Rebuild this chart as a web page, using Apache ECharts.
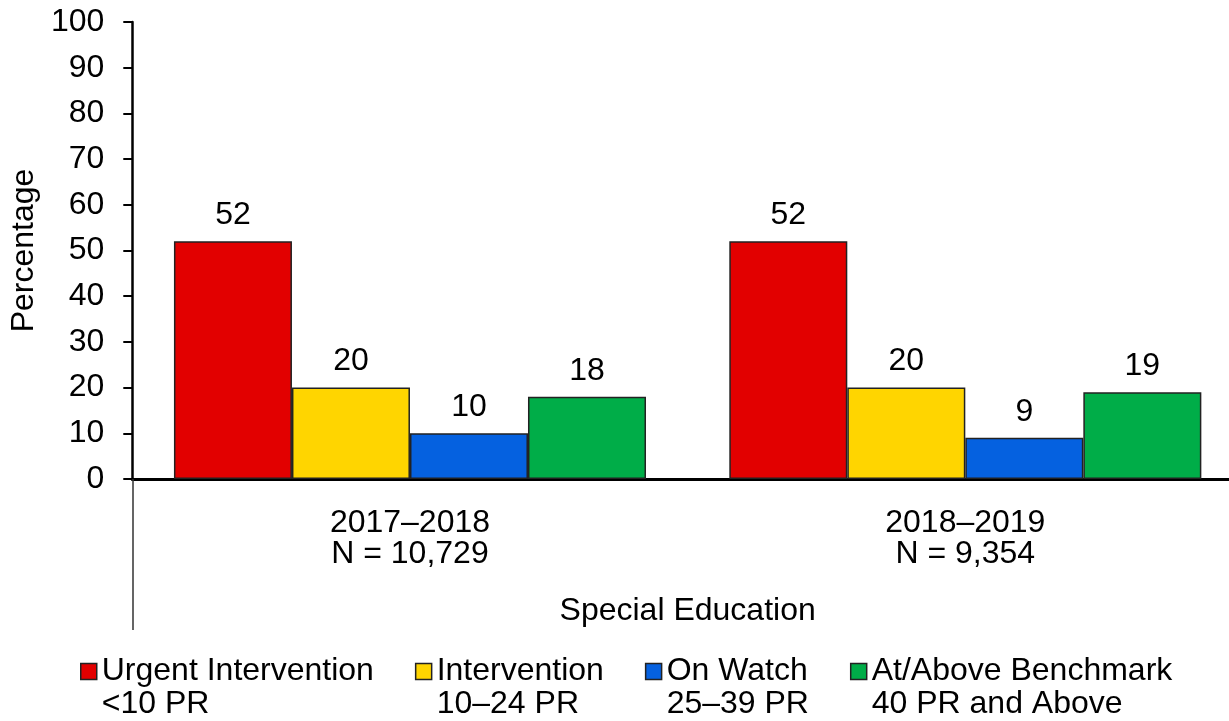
<!DOCTYPE html>
<html>
<head>
<meta charset="utf-8">
<style>
  html, body { margin: 0; padding: 0; background: #ffffff; overflow: hidden; }
  /* the plot runs a little past the right edge of the window */
  #chart { width: 1243px; height: 721px; }
</style>
<script src="https://cdn.jsdelivr.net/npm/echarts@6/dist/echarts.min.js"></script>
</head>
<body>
<div id="chart"></div>
<script>
// School years, each with its group size
const categories = ['2017–2018\nN = 10,729', '2018–2019\nN = 9,354'];

// Percentage of students in each screening band
const urgentIntervention = [52, 52];
const intervention = [20, 20];
const onWatch = [10, 9];
const atAboveBenchmark = [18, 19];

const seriesNames = [
  'Urgent Intervention\n<10 PR',
  'Intervention\n10–24 PR',
  'On Watch\n25–39 PR',
  'At/Above Benchmark\n40 PR and Above'
];
const seriesValues = [urgentIntervention, intervention, onWatch, atAboveBenchmark];
const seriesColors = ['#E20000', '#FFD500', '#0561E0', '#00AD48'];

const yTicks = { min: 0, max: 100, interval: 10 };

const FONT = "'Liberation Sans', Arial, sans-serif";
const FS = 32;

const chart = echarts.init(document.getElementById('chart'));

chart.setOption({
  animation: false,
  backgroundColor: '#ffffff',
  textStyle: { fontFamily: FONT },
  grid: { left: 131, top: 22, right: 0, height: 457, containLabel: false },
  legend: {
    left: 80,
    top: 622,
    padding: 0,
    itemGap: 41,
    itemWidth: 16,
    itemHeight: 16,
    icon: 'rect',
    selectedMode: false,
    itemStyle: { borderColor: '#222', borderWidth: 1.5 },
    // a blank leading line keeps the swatch beside the first line of text
    formatter: function (name) { return ' \n' + name; },
    textStyle: {
      fontFamily: FONT,
      fontSize: FS,
      color: '#000',
      lineHeight: 33
    },
    data: seriesNames
  },
  xAxis: {
    type: 'category',
    data: categories,
    name: 'Special Education',
    nameLocation: 'middle',
    nameGap: 116,
    nameTextStyle: { fontFamily: FONT, fontSize: FS, color: '#000' },
    axisLine: { lineStyle: { color: '#000', width: 3 } },
    axisTick: {
      show: true,
      alignWithLabel: false,
      length: 151,
      interval: function (index) { return index === 0; },
      lineStyle: { color: '#333', width: 1.5 }
    },
    axisLabel: {
      fontFamily: FONT,
      fontSize: FS,
      color: '#000',
      lineHeight: 31,
      margin: 29,
      interval: 0
    },
    splitLine: { show: false }
  },
  yAxis: {
    type: 'value',
    min: yTicks.min,
    max: yTicks.max,
    interval: yTicks.interval,
    name: 'Percentage',
    nameLocation: 'middle',
    nameGap: 87,
    nameTextStyle: { fontFamily: FONT, fontSize: FS, color: '#000' },
    axisLine: { show: true, lineStyle: { color: '#000', width: 2.5 } },
    axisTick: { show: true, length: 9, lineStyle: { color: '#000', width: 2 } },
    axisLabel: { fontFamily: FONT, fontSize: FS, color: '#000', margin: 28 },
    splitLine: { show: false }
  },
  series: seriesNames.map(function (name, i) {
    return {
      name: name,
      type: 'bar',
      data: seriesValues[i],
      barGap: '0%',
      barCategoryGap: '15%',
      itemStyle: { color: seriesColors[i], borderColor: '#222', borderWidth: 1.5 },
      label: {
        show: true,
        position: 'top',
        distance: 10,
        fontFamily: FONT,
        fontSize: FS,
        color: '#000'
      }
    };
  })
});
</script>
</body>
</html>
